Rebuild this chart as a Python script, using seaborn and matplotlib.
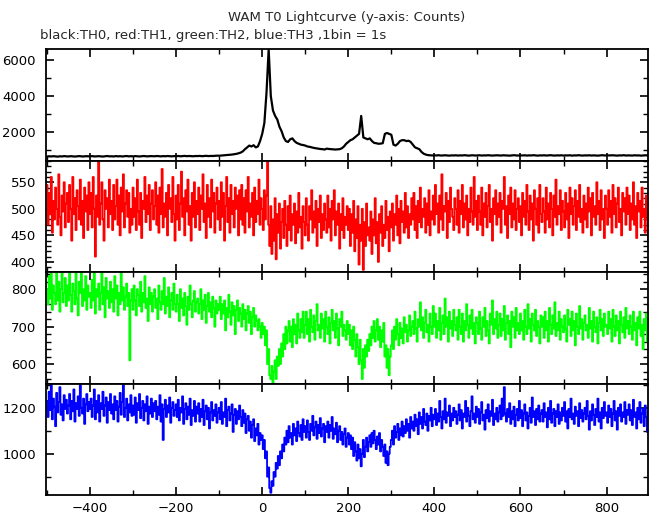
import numpy as np
import pandas as pd
import matplotlib
matplotlib.use("Agg")
import matplotlib.pyplot as plt
import seaborn as sns
from matplotlib.ticker import MultipleLocator

# time grids (s)
time_th0 = np.arange(-500, 905, 5)      # TH0 read at 5 s steps
time = np.arange(-500, 902.5, 2.5)      # TH1-TH3 read at 2.5 s steps

th0 = [
    640, 655, 645, 660, 650, 635, 655, 645, 665, 650,
    645, 660, 650, 640, 655, 665, 650, 645, 660, 655,
    650, 665, 645, 655, 660, 650, 640, 655, 670, 650,
    655, 645, 665, 650, 660, 645, 655, 670, 650, 660,
    650, 665, 655, 645, 660, 670, 655, 650, 665, 660,
    655, 670, 660, 650, 665, 655, 670, 660, 650, 665,
    660, 670, 655, 665, 675, 660, 670, 665, 655, 670,
    665, 675, 660, 670, 680, 665, 675, 670, 680, 690,
    685, 695, 700, 710, 720, 735, 750, 770, 790, 820,
    860, 930, 1050, 1150, 1250, 1200, 1270, 1150, 1200, 1500,
    1900, 2500, 4200, 6600, 4000, 3200, 2900, 2700, 2300, 2050,
    1700, 1500, 1450, 1600, 1650, 1500, 1400, 1350, 1300, 1280,
    1250, 1200, 1180, 1150, 1120, 1100, 1080, 1060, 1050, 1030,
    1080, 1060, 1050, 1040, 1030, 1040, 1050, 1100, 1200, 1350,
    1450, 1550, 1600, 1700, 1800, 1900, 2900, 1700, 1650, 1600,
    1650, 1500, 1400, 1380, 1350, 1360, 1380, 1900, 1950, 1900,
    1850, 1300, 1250, 1350, 1500, 1550, 1550, 1500, 1520, 1450,
    1300, 1150, 1100, 1050, 900, 800, 750, 720, 710, 700,
    705, 700, 715, 695, 705, 710, 700, 690, 705, 700,
    710, 695, 705, 700, 715, 700, 690, 705, 710, 695,
    700, 710, 695, 705, 700, 715, 700, 695, 705, 710,
    700, 695, 710, 705, 700, 690, 705, 715, 700, 695,
    705, 700, 710, 695, 705, 700, 715, 700, 690, 705,
    700, 710, 695, 705, 715, 700, 695, 705, 700, 710,
    695, 705, 700, 710, 690, 705, 700, 715, 700, 695,
    705, 700, 710, 695, 705, 700, 690, 705, 715, 700,
    700, 695, 705, 710, 700, 690, 705, 700, 715, 695,
    705, 700, 695, 710, 700, 705, 690, 700, 710, 700,
    700,
]

th1 = [
    545, 470, 530, 490, 560, 455, 515, 480, 540, 500, 470, 565, 485, 450, 525, 495, 550, 465, 510, 530,
    475, 545, 500, 440, 560, 490, 520, 460, 535, 505, 480, 555, 470, 515, 445, 540, 495, 525, 460, 550,
    490, 530, 465, 560, 500, 410, 525, 485, 590, 470, 510, 550, 480, 440, 535, 500, 520, 465, 555, 490,
    515, 460, 545, 480, 505, 555, 470, 525, 450, 540, 495, 565, 465, 510, 535, 485, 530, 455, 500, 470,
    540, 485, 520, 460, 555, 495, 470, 530, 445, 515, 500, 560, 475, 525, 490, 545, 460, 510, 535, 480,
    505, 550, 470, 525, 455, 540, 490, 575, 465, 510, 485, 530, 450, 545, 500, 520, 475, 560, 490, 440,
    525, 480, 545, 460, 510, 570, 485, 520, 450, 535, 495, 555, 470, 505, 440, 530, 485, 550, 465, 515,
    490, 540, 460, 525, 500, 565, 475, 510, 445, 545, 485, 520, 465, 555, 495, 530, 455, 510, 540, 480,
    515, 460, 550, 485, 530, 440, 505, 560, 475, 520, 455, 545, 490, 515, 465, 540, 500, 525, 450, 535,
    480, 545, 470, 520, 455, 535, 495, 560, 465, 510, 485, 530, 450, 540, 475, 515, 490, 555, 470, 520,
    500, 460, 535, 480, 525, 590, 470, 430, 505, 415, 480, 440, 520, 405, 490, 455, 510, 425, 475, 500,
    445, 515, 470, 430, 505, 460, 525, 440, 490, 470, 510, 435, 495, 455, 530, 465, 485, 425, 505, 475,
    450, 520, 470, 440, 505, 480, 535, 455, 495, 465, 515, 430, 500, 475, 525, 445, 490, 460, 510, 480,
    455, 525, 465, 500, 440, 515, 480, 535, 450, 495, 470, 510, 425, 490, 460, 520, 445, 485, 470, 505,
    460, 500, 430, 490, 455, 515, 420, 480, 445, 505, 395, 470, 440, 500, 385, 475, 430, 510, 450, 465,
    440, 495, 415, 480, 450, 520, 435, 475, 400, 490, 455, 505, 430, 470, 445, 515, 460, 485, 420, 495,
    465, 510, 440, 490, 470, 525, 450, 500, 435, 515, 475, 495, 455, 530, 465, 505, 445, 490, 470, 520,
    480, 530, 460, 505, 445, 515, 475, 540, 465, 500, 485, 520, 455, 510, 470, 535, 450, 495, 480, 525,
    470, 545, 490, 510, 455, 525, 480, 565, 460, 505, 495, 530, 445, 515, 475, 540, 500, 485, 460, 520,
    500, 470, 535, 455, 515, 490, 545, 465, 510, 480, 525, 450, 500, 475, 540, 495, 470, 560, 485, 515,
    460, 525, 495, 470, 540, 450, 510, 485, 530, 465, 505, 545, 475, 500, 440, 520, 490, 535, 470, 510,
    485, 530, 455, 515, 500, 560, 470, 505, 445, 525, 490, 540, 465, 510, 480, 535, 460, 500, 520, 475,
    505, 450, 530, 485, 515, 470, 545, 495, 460, 525, 480, 510, 440, 535, 500, 470, 520, 455, 545, 490,
    475, 520, 495, 455, 540, 480, 510, 465, 530, 500, 450, 525, 485, 555, 470, 505, 490, 535, 460, 515,
    495, 465, 530, 480, 510, 445, 540, 490, 520, 470, 505, 535, 460, 515, 485, 545, 475, 500, 455, 525,
    480, 510, 465, 540, 495, 520, 450, 530, 485, 505, 470, 550, 490, 515, 460, 535, 480, 500, 445, 525,
    500, 470, 535, 485, 515, 455, 545, 490, 520, 465, 510, 540, 475, 500, 450, 530, 495, 520, 470, 540,
    490, 525, 460, 510, 480, 550, 470, 505, 445, 530, 495, 515, 465, 540, 485, 500, 455, 525, 480, 435,
    480,
]

th2 = [
    800, 760, 835, 775, 845, 745, 810, 790, 760, 845, 770, 820, 740, 800, 845, 765, 790, 830, 755, 810,
    770, 845, 785, 740, 815, 795, 760, 845, 775, 730, 820, 790, 845, 755, 800, 770, 835, 745, 810, 780,
    790, 750, 825, 770, 845, 735, 800, 780, 815, 745, 790, 845, 760, 805, 725, 830, 775, 795, 750, 820,
    765, 800, 740, 835, 775, 810, 730, 790, 760, 845, 770, 805, 745, 780, 815, 755, 790, 610, 770, 800,
    745, 810, 770, 730, 800, 785, 755, 820, 740, 790, 765, 835, 750, 775, 715, 805, 760, 790, 740, 780,
    800, 750, 775, 720, 810, 765, 745, 795, 760, 830, 735, 780, 755, 805, 725, 770, 790, 745, 815, 760,
    740, 785, 760, 715, 800, 750, 775, 730, 790, 755, 705, 780, 745, 810, 760, 725, 770, 795, 740, 765,
    775, 735, 760, 800, 720, 770, 745, 785, 710, 755, 790, 740, 765, 725, 780, 750, 700, 770, 735, 760,
    745, 780, 720, 760, 735, 770, 690, 750, 725, 785, 740, 705, 765, 730, 755, 680, 745, 770, 715, 750,
    735, 700, 760, 720, 745, 690, 735, 755, 710, 740, 680, 725, 750, 700, 730, 715, 690, 720, 700, 670,
    710, 680, 700, 650, 690, 600, 640, 570, 560, 595, 550, 580, 610, 560, 620, 595, 640, 600, 655, 620,
    680, 640, 700, 655, 690, 715, 660, 700, 645, 720, 680, 705, 655, 735, 690, 670, 720, 685, 740, 670,
    705, 740, 680, 720, 660, 745, 700, 685, 730, 665, 715, 760, 690, 705, 670, 735, 695, 720, 660, 740,
    700, 680, 725, 655, 710, 745, 690, 715, 670, 735, 695, 650, 720, 700, 740, 675, 705, 690, 665, 715,
    680, 705, 650, 690, 640, 700, 665, 620, 680, 645, 600, 665, 610, 560, 640, 590, 650, 620, 665, 635,
    680, 650, 700, 670, 715, 660, 690, 720, 665, 700, 645, 690, 660, 710, 620, 650, 590, 640, 570, 620,
    650, 690, 640, 700, 665, 720, 680, 650, 710, 670, 695, 655, 725, 685, 705, 660, 690, 730, 675, 700,
    715, 680, 740, 695, 660, 720, 700, 765, 690, 725, 670, 710, 745, 685, 705, 660, 735, 700, 680, 755,
    700, 735, 670, 715, 690, 750, 665, 710, 730, 680, 775, 700, 725, 660, 740, 695, 715, 675, 745, 705,
    690, 725, 665, 745, 700, 680, 735, 660, 715, 690, 760, 705, 670, 730, 695, 745, 680, 710, 655, 725,
    710, 680, 740, 695, 665, 725, 700, 750, 675, 715, 690, 655, 735, 705, 770, 680, 720, 695, 740, 670,
    705, 735, 675, 720, 690, 755, 665, 710, 730, 680, 715, 645, 740, 700, 725, 670, 750, 690, 710, 680,
    735, 690, 715, 665, 745, 700, 680, 760, 695, 720, 660, 735, 705, 690, 745, 675, 715, 700, 655, 730,
    700, 725, 670, 740, 690, 715, 660, 750, 705, 680, 730, 695, 765, 675, 710, 690, 740, 665, 720, 700,
    685, 730, 695, 660, 745, 705, 720, 675, 740, 690, 715, 650, 735, 700, 680, 755, 695, 720, 665, 710,
    730, 690, 705, 670, 750, 695, 715, 660, 740, 700, 685, 725, 655, 710, 745, 690, 720, 675, 735, 700,
    705, 680, 740, 695, 720, 660, 745, 700, 675, 730, 690, 715, 655, 740, 705, 685, 725, 670, 750, 695,
    715, 680, 730, 700, 665, 740, 690, 710, 650, 725, 695, 740, 675, 705, 640, 720, 690, 735, 660, 700,
    690,
]

th3 = [
    1230, 1160, 1270, 1190, 1300, 1150, 1240, 1205, 1120, 1265, 1180, 1225, 1290, 1170, 1215, 1145, 1255, 1195, 1235, 1175,
    1210, 1260, 1150, 1230, 1185, 1280, 1140, 1220, 1195, 1250, 1165, 1300, 1200, 1175, 1240, 1130, 1215, 1260, 1185, 1225,
    1195, 1240, 1160, 1210, 1280, 1150, 1230, 1180, 1255, 1140, 1220, 1195, 1270, 1165, 1210, 1245, 1135, 1225, 1190, 1260,
    1175, 1215, 1150, 1250, 1190, 1230, 1140, 1205, 1265, 1170, 1225, 1310, 1160, 1200, 1240, 1145, 1215, 1180, 1255, 1165,
    1210, 1170, 1245, 1135, 1220, 1190, 1260, 1155, 1200, 1230, 1145, 1215, 1185, 1250, 1130, 1205, 1175, 1240, 1160, 1220,
    1185, 1230, 1150, 1205, 1170, 1255, 1140, 1215, 1060, 1195, 1235, 1160, 1210, 1180, 1245, 1135, 1200, 1225, 1165, 1190,
    1215, 1160, 1235, 1145, 1200, 1180, 1250, 1130, 1195, 1220, 1150, 1205, 1170, 1240, 1125, 1190, 1165, 1230, 1140, 1205,
    1175, 1220, 1140, 1195, 1160, 1235, 1125, 1185, 1210, 1150, 1200, 1110, 1180, 1225, 1145, 1190, 1165, 1215, 1135, 1180,
    1200, 1150, 1225, 1130, 1180, 1160, 1240, 1120, 1190, 1205, 1145, 1175, 1215, 1095, 1170, 1195, 1130, 1185, 1150, 1210,
    1160, 1120, 1190, 1135, 1175, 1090, 1150, 1165, 1100, 1140, 1070, 1125, 1150, 1055, 1110, 1080, 1130, 1040, 1090, 1060,
    1080, 1020, 1060, 980, 1010, 900, 940, 850, 830, 880, 860, 920, 900, 960, 935, 990, 950, 1010, 980, 1040,
    1010, 1070, 1040, 1100, 1050, 1120, 1070, 1090, 1040, 1130, 1080, 1110, 1055, 1140, 1090, 1075, 1125, 1060, 1150, 1095,
    1120, 1070, 1145, 1095, 1060, 1130, 1100, 1165, 1080, 1115, 1140, 1065, 1125, 1090, 1155, 1075, 1110, 1130, 1050, 1120,
    1095, 1140, 1070, 1125, 1100, 1160, 1065, 1110, 1085, 1135, 1050, 1100, 1120, 1060, 1095, 1040, 1085, 1110, 1030, 1070,
    1090, 1040, 1080, 1020, 1070, 990, 1050, 1010, 970, 1040, 980, 1020, 945, 1000, 1060, 985, 1030, 1070, 1010, 1050,
    1080, 1030, 1090, 1045, 1100, 1060, 1020, 1075, 1040, 1090, 1010, 1060, 1030, 990, 1040, 960, 1010, 950, 1000, 1030,
    1060, 1100, 1040, 1120, 1070, 1095, 1130, 1060, 1110, 1080, 1140, 1075, 1120, 1090, 1150, 1100, 1130, 1070, 1160, 1110,
    1140, 1100, 1170, 1120, 1150, 1085, 1180, 1130, 1160, 1110, 1195, 1140, 1125, 1175, 1100, 1165, 1145, 1200, 1120, 1170,
    1150, 1195, 1125, 1175, 1140, 1230, 1160, 1110, 1185, 1150, 1240, 1135, 1180, 1165, 1210, 1120, 1175, 1145, 1200, 1160,
    1185, 1130, 1170, 1215, 1145, 1190, 1110, 1175, 1160, 1230, 1140, 1200, 1165, 1120, 1185, 1250, 1150, 1175, 1135, 1205,
    1160, 1195, 1130, 1180, 1225, 1145, 1170, 1105, 1190, 1155, 1215, 1140, 1185, 1165, 1235, 1125, 1175, 1150, 1200, 1140,
    1180, 1210, 1150, 1240, 1165, 1290, 1175, 1140, 1195, 1160, 1220, 1130, 1185, 1150, 1205, 1120, 1170, 1195, 1145, 1230,
    1155, 1190, 1120, 1175, 1215, 1145, 1180, 1110, 1165, 1200, 1135, 1245, 1160, 1185, 1125, 1195, 1150, 1210, 1140, 1175,
    1190, 1140, 1220, 1160, 1180, 1115, 1200, 1150, 1230, 1135, 1175, 1195, 1120, 1185, 1160, 1215, 1130, 1180, 1145, 1200,
    1165, 1225, 1140, 1185, 1110, 1195, 1160, 1240, 1150, 1175, 1130, 1205, 1165, 1185, 1120, 1220, 1155, 1190, 1140, 1175,
    1200, 1150, 1230, 1165, 1105, 1185, 1145, 1215, 1170, 1125, 1195, 1160, 1240, 1140, 1180, 1110, 1200, 1155, 1225, 1165,
    1180, 1135, 1210, 1160, 1195, 1120, 1175, 1230, 1145, 1185, 1105, 1200, 1165, 1215, 1140, 1180, 1160, 1225, 1130, 1190,
    1170, 1215, 1145, 1190, 1125, 1235, 1160, 1180, 1110, 1200, 1150, 1225, 1135, 1175, 1195, 1120, 1210, 1160, 1095, 1185,
    1170,
]

series = [th0, th1, th2, th3]
times = [time_th0, time, time, time]
colors = ["#000000", "#ff0000", "#00ff00", "#0000ff"]
widths = [1.6, 1.3, 1.3, 1.3]
styles = ["default", "steps-mid", "steps-mid", "steps-mid"]
ylims = [(420, 6620), (381, 591), (548, 846), (820, 1306)]
ymajor = [2000, 50, 100, 200]
yminor = [1000, 10, 20, 100]

title = "WAM T0 Lightcurve (y-axis: Counts)"
subtitle = "black:TH0, red:TH1, green:TH2, blue:TH3 ,1bin = 1s"

for t, s in zip(times, series):
    assert len(t) == len(s), (len(t), len(s))

sns.set_theme(style="white")
plt.rcParams["font.family"] = ["DejaVu Sans"]

fig = plt.figure(figsize=(6.52, 5.15), dpi=100)
gs = fig.add_gridspec(4, 1, left=45.7 / 652, right=648.3 / 652,
                      top=1 - 49 / 515, bottom=1 - 495 / 515, hspace=0)

axes = []
for i in range(4):
    ax = fig.add_subplot(gs[i, 0], sharex=axes[0] if axes else None)
    axes.append(ax)
    df = pd.DataFrame({"t": times[i], "counts": series[i]})
    sns.lineplot(data=df, x="t", y="counts", ax=ax, color=colors[i],
                 linewidth=widths[i], drawstyle=styles[i],
                 estimator=None, sort=False)
    ax.set_ylim(*ylims[i])
    ax.set_xlim(-503, 897)
    ax.set_xlabel("")
    ax.set_ylabel("")
    ax.yaxis.set_major_locator(MultipleLocator(ymajor[i]))
    ax.yaxis.set_minor_locator(MultipleLocator(yminor[i]))
    ax.xaxis.set_major_locator(MultipleLocator(200))
    ax.xaxis.set_minor_locator(MultipleLocator(100))
    ax.tick_params(which="both", direction="in", top=True, right=True,
                   left=True, bottom=True, colors="black", labelsize=9.5)
    ax.tick_params(which="major", length=6, width=1.2)
    ax.tick_params(which="minor", length=3.5, width=1.0)
    ax.tick_params(axis="y", pad=7)
    ax.tick_params(axis="x", pad=5, labelbottom=(i == 3))
    for sp in ax.spines.values():
        sp.set_color("black")
        sp.set_linewidth(1.3)

fig.text(347 / 652, 1 - 17 / 515, title, ha="center", va="center", fontsize=9.5)
fig.text(40 / 652, 1 - 35 / 515, subtitle, ha="left", va="center", fontsize=9.5)

fig.savefig("out.png", dpi=100)
